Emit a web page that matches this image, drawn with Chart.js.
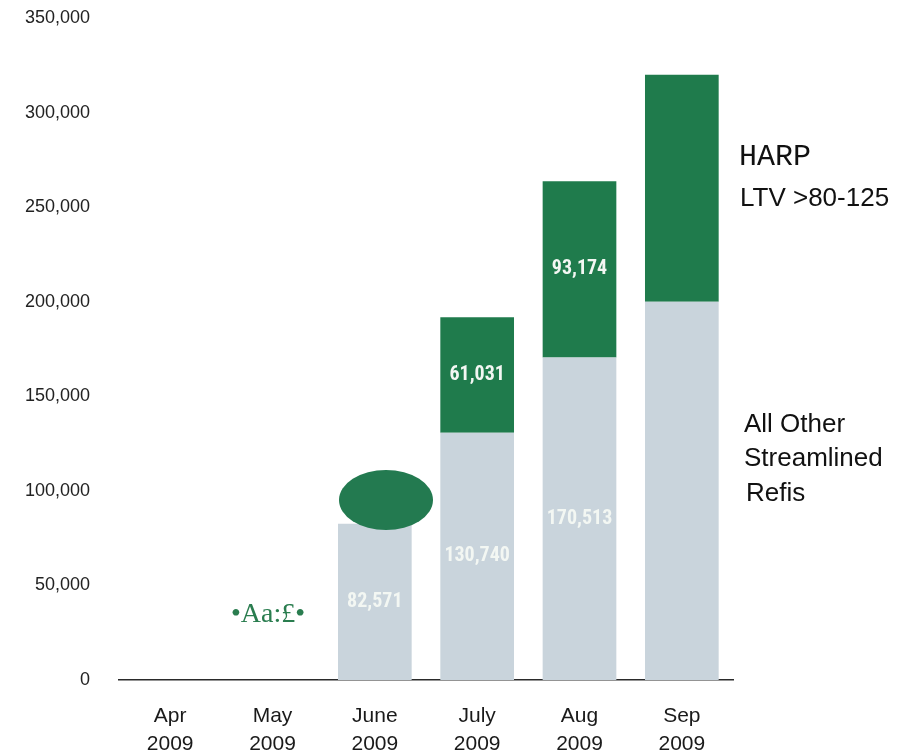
<!DOCTYPE html>
<html>
<head>
<meta charset="utf-8">
<script src="https://cdn.jsdelivr.net/npm/chart.js@4.4.1/dist/chart.umd.min.js"></script>
<style>
  html, body { margin: 0; padding: 0; background: #fff; }
  #wrap { width: 920px; height: 753px; position: relative; }
</style>
</head>
<body>
<div id="wrap"><canvas id="refis"></canvas></div>
<script>
// streamlined refinance volume by month, 2009
const months = [['Apr', '2009'], ['May', '2009'], ['June', '2009'], ['July', '2009'], ['Aug', '2009'], ['Sep', '2009']];
const otherRefis = [null, null, 82571, 130740, 170513, 200000];
const harpRefis = [null, null, null, 61031, 93174, 120000];
// which segments carry a printed number in the original
const otherPrinted = [false, false, true, true, true, false];
const harpPrinted = [false, false, false, true, true, false];
const yMax = 350000;
const yStep = 50000;

const GREEN = '#1f7b4c';
const GREY = '#c9d4dc';

const valueLabels = {
  id: 'valueLabels',
  afterDatasetsDraw(chart) {
    const ctx = chart.ctx;
    ctx.save();
    ctx.font = 'bold 20px "Liberation Sans Narrow", "Roboto Condensed", Roboto, sans-serif';
    ctx.fillStyle = '#f3f7f3';
    ctx.textAlign = 'center';
    ctx.textBaseline = 'middle';
    chart.data.datasets.forEach((ds, di) => {
      chart.getDatasetMeta(di).data.forEach((bar, i) => {
        if (!ds.printed[i] || ds.data[i] == null) return;
        ctx.fillText(ds.data[i].toLocaleString('en-US'), bar.x, (bar.y + bar.base) / 2);
      });
    });
    ctx.restore();
  }
};

// side captions and the stray marks from the scanned original
const captions = {
  id: 'captions',
  afterDraw(chart) {
    const ctx = chart.ctx;
    ctx.save();
    ctx.fillStyle = '#111';
    ctx.textBaseline = 'middle';
    ctx.textAlign = 'left';
    ctx.font = '30px "Courier New", Courier, "Liberation Mono", monospace';
    ctx.fillText('HARP', 739, 157);
    ctx.font = '26px "Liberation Sans", Arial, sans-serif';
    ctx.fillText('LTV >80-125', 740, 199);
    ctx.fillText('All Other', 744, 425);
    ctx.fillText('Streamlined', 744, 459);
    ctx.fillText('Refis', 746, 494);

    ctx.fillStyle = '#237a50';
    ctx.beginPath();
    ctx.ellipse(386, 500, 47, 30, 0, 0, Math.PI * 2);
    ctx.fill();

    ctx.fillStyle = '#2a7d4f';
    ctx.font = '28px "Liberation Serif", "Times New Roman", serif';
    ctx.textAlign = 'center';
    ctx.fillText('•Aa:£•', 268, 615);
    ctx.restore();
  }
};

new Chart(document.getElementById('refis'), {
  type: 'bar',
  data: {
    labels: months,
    datasets: [
      {
        label: 'All Other Streamlined Refis',
        data: otherRefis,
        printed: otherPrinted,
        backgroundColor: GREY,
        barPercentage: 0.72,
        categoryPercentage: 1
      },
      {
        label: 'HARP LTV >80-125',
        data: harpRefis,
        printed: harpPrinted,
        backgroundColor: GREEN,
        barPercentage: 0.72,
        categoryPercentage: 1
      }
    ]
  },
  options: {
    responsive: true,
    maintainAspectRatio: false,
    animation: false,
    layout: { padding: { top: 18, right: 187, bottom: 0, left: 0 } },
    plugins: {
      legend: { display: false },
      tooltip: { enabled: false }
    },
    scales: {
      x: {
        stacked: true,
        grid: { display: false, drawTicks: false },
        border: { display: true, color: '#2a2a2a', width: 1.5 },
        ticks: {
          color: '#1a1a1a',
          padding: 23,
          maxRotation: 0,
          font: { family: '"Liberation Sans", Arial, sans-serif', size: 21, lineHeight: 1.3 }
        },
        afterFit(scale) { scale.height = 73; }
      },
      y: {
        stacked: true,
        min: 0,
        max: yMax,
        grid: { display: false, drawTicks: false },
        border: { display: false },
        ticks: {
          stepSize: yStep,
          color: '#222',
          padding: 29,
          font: { family: '"Liberation Sans", Arial, sans-serif', size: 18 },
          callback: v => v.toLocaleString('en-US')
        },
        afterFit(scale) {
          scale.width = 119;
          // tick padding is horizontal here; don't let it push the plot down
          scale.paddingTop = 11;
          scale.paddingBottom = 11;
        }
      }
    }
  },
  plugins: [valueLabels, captions]
});
</script>
</body>
</html>
